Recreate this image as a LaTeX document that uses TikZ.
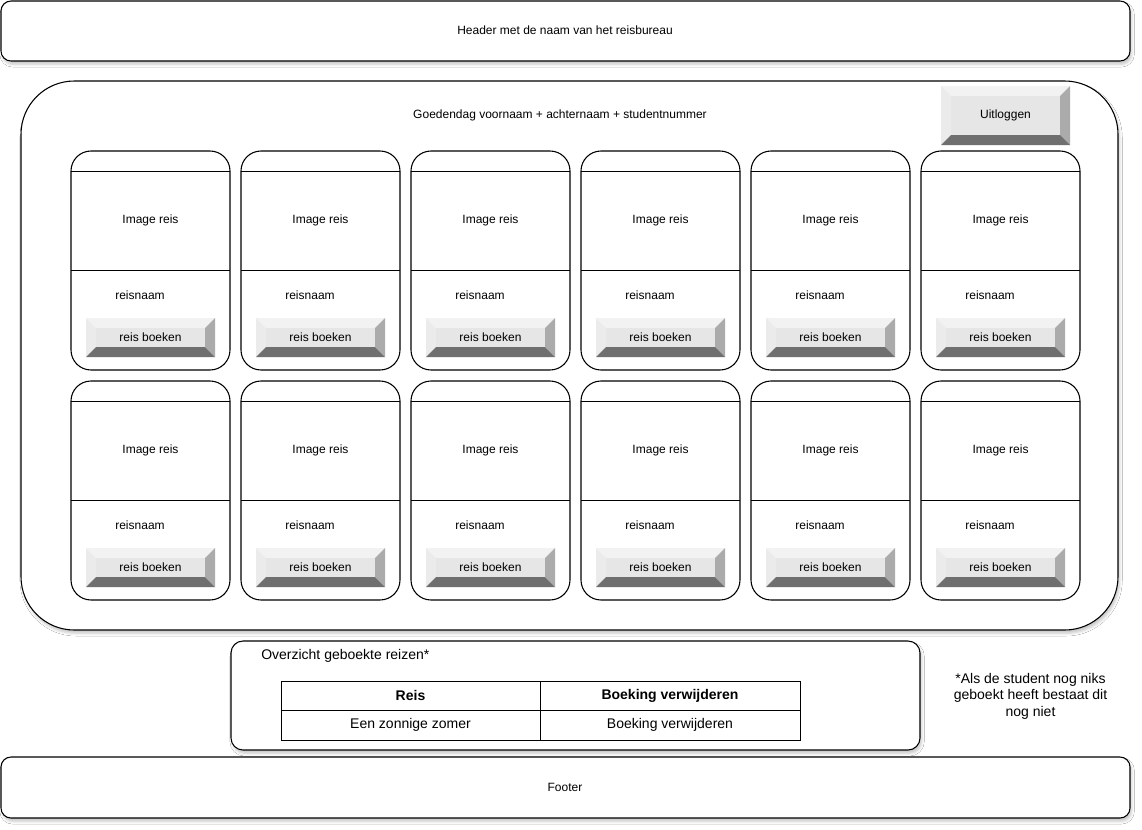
\documentclass[tikz,border=0pt]{standalone}
\usepackage{fontspec}
\setmainfont{Liberation Sans}
\usetikzlibrary{shadows.blur}
\definecolor{bvtop}{HTML}{F2F2F2}
\definecolor{bvleft}{HTML}{EBEBEB}
\definecolor{bvright}{HTML}{ABABAB}
\definecolor{bvbottom}{HTML}{6F6F6F}
\definecolor{bvface}{HTML}{E6E6E6}
\newcommand\bevbtn[6]{%
  \fill[bvtop] (#2,#3) -- (#4,#3) -- ({#4-10},{#3+10}) -- ({#2+10},{#3+10}) -- cycle;
  \fill[bvleft] (#2,#3) -- ({#2+10},{#3+10}) -- ({#2+10},{#5-10}) -- (#2,#5) -- cycle;
  \fill[bvright] (#4,#3) -- (#4,#5) -- ({#4-10},{#5-10}) -- ({#4-10},{#3+10}) -- cycle;
  \fill[bvbottom] (#2,#5) -- (#4,#5) -- ({#4-10},{#5-10}) -- ({#2+10},{#5-10}) -- cycle;
  \fill[bvface] ({#2+10},{#3+10}) rectangle ({#4-10},{#5-10});
  \node[txt] (#1) at ({(#2+#4)/2},{(#3+#5)/2}) {#6};
}
\begin{document}
\begin{tikzpicture}[x=0.75pt,y=-0.75pt,
  txt/.style={inner sep=0pt,font=\fontsize{9}{11}\selectfont},
  bigtxt/.style={inner sep=0pt,font=\fontsize{10.5}{12}\selectfont},
  boldtxt/.style={inner sep=0pt,font=\fontsize{10.5}{12}\selectfont\bfseries},
  notetxt/.style={inner sep=0pt,align=center,font=\fontsize{10.5}{12.3}\selectfont},
  box/.style={draw=black,line width=0.8pt,fill=white},
  shad/.style={blur shadow={shadow xshift=1.2pt,shadow yshift=-2.5pt,shadow blur radius=2pt,shadow opacity=22}},
  thin/.style={draw=black,line width=0.75pt}]
\useasboundingbox (0,0) rectangle (1142,829);
\fill[white] (0,0) rectangle (1142,829);

% header
\draw[box,shad,rounded corners=7.5pt] (1,1) rectangle (1130,61);
\node[txt] (header) at (565,30) {Header met de naam van het reisbureau};

% main container
\draw[box,shad,rounded corners=40pt] (21,81) rectangle (1118,630);
\node[txt] (greet) at (560,115) {Goedendag voornaam + achternaam + studentnummer};
\bevbtn{logout}{941}{86}{1070}{145}{Uitloggen}

% cards
\foreach \r/\y in {0/151,1/381}{
  \foreach \c in {0,...,5}{
    \pgfmathsetmacro\x{71+170*\c}
    \draw[box,rounded corners=15pt] (\x,\y) rectangle ({\x+159},{\y+219});
    \draw[thin] (\x,{\y+20}) -- ({\x+159},{\y+20});
    \draw[thin] (\x,{\y+119}) -- ({\x+159},{\y+119});
    \node[txt] (img-\r-\c) at ({\x+79.5},{\y+69}) {Image reis};
    \node[txt] (name-\r-\c) at ({\x+69},{\y+144}) {reisnaam};
    \bevbtn{book-\r-\c}{\x+15}{\y+167}{\x+144}{\y+206}{reis boeken}
  }
}

% bookings panel
\draw[box,shad,rounded corners=9pt] (231,641) rectangle (920,750);
\node[bigtxt,anchor=west] (ovz) at (261,656) {Overzicht geboekte reizen*};
\draw[thin] (281,681) rectangle (800,740);
\draw[thin] (540,681) -- (540,740);
\draw[thin] (281,710) -- (800,710);
\node[boldtxt] (h1) at (410.5,695.5) {Reis};
\node[boldtxt] (h2) at (670,695.5) {Boeking verwijderen};
\node[bigtxt] (d1) at (410.5,725) {Een zonnige zomer};
\node[bigtxt] (d2) at (670,725) {Boeking verwijderen};

% note
\node[notetxt] (note) at (1030.5,696) {*Als de student nog niks\\geboekt heeft bestaat dit\\nog niet};

% footer
\draw[box,shad,rounded corners=7.5pt] (1,757) rectangle (1130,818);
\node[txt] (footer) at (565,787) {Footer};
\end{tikzpicture}
\end{document}
